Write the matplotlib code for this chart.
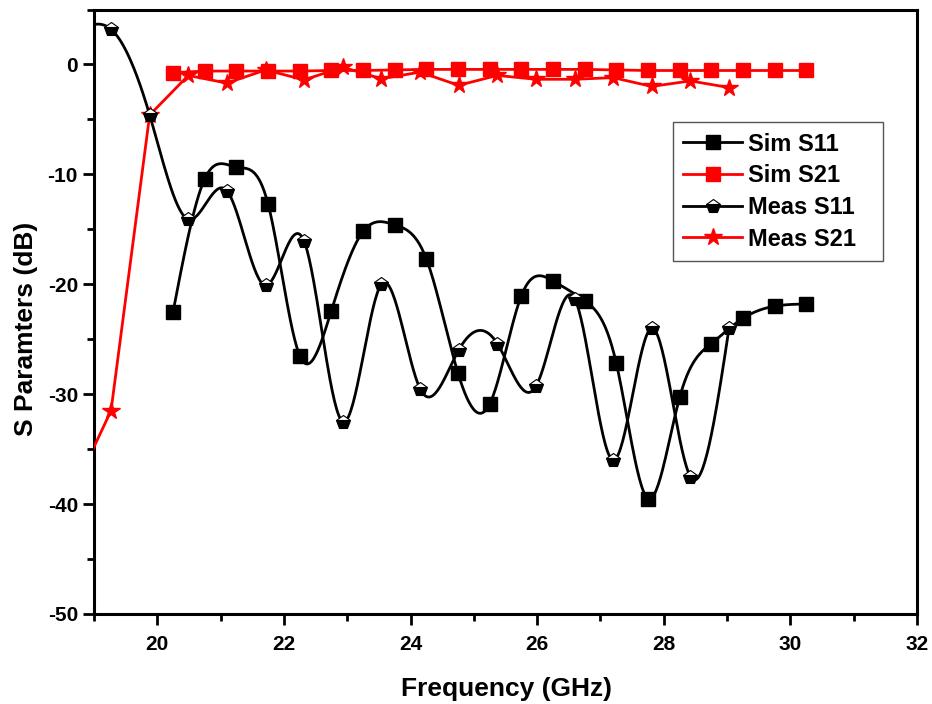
import numpy as np
import matplotlib
matplotlib.use("Agg")
import matplotlib.pyplot as plt
from matplotlib.ticker import MultipleLocator

# Simulated data (0.5 GHz grid)
sim_freq = [20.25, 20.75, 21.25, 21.75, 22.25, 22.75, 23.25, 23.75, 24.25, 24.75,
            25.25, 25.75, 26.25, 26.75, 27.25, 27.75, 28.25, 28.75, 29.25, 29.75, 30.25]
sim_s11 = [-22.5, -10.4, -9.35, -12.7, -26.5, -22.4, -15.2, -14.6, -17.7, -28.1,
           -30.9, -21.05, -19.7, -21.5, -27.2, -39.5, -30.3, -25.4, -23.1, -22.0, -21.8]
sim_s21 = [-0.75, -0.6, -0.6, -0.6, -0.6, -0.55, -0.55, -0.5, -0.45, -0.45,
           -0.45, -0.45, -0.45, -0.45, -0.5, -0.55, -0.55, -0.55, -0.55, -0.55, -0.55]

# Measured data
meas_freq = [18.66, 19.27, 19.88, 20.49, 21.10, 21.71, 22.32, 22.93, 23.54, 24.15,
             24.76, 25.37, 25.98, 26.59, 27.20, 27.81, 28.42, 29.03]
meas_s11 = [2.6, 3.2, -4.6, -14.1, -11.5, -20.1, -16.1, -32.5, -20.0, -29.5,
            -26.0, -25.4, -29.3, -21.3, -36.0, -24.0, -37.5, -24.0]
meas_s21 = [-39.0, -31.5, -4.6, -1.0, -1.7, -0.5, -1.4, -0.25, -1.3, -0.7,
            -1.9, -1.0, -1.35, -1.35, -1.2, -2.0, -1.5, -2.1]


def natural_spline(x, y, num=600):
    """Natural cubic spline through (x, y), sampled on a dense grid."""
    x = np.asarray(x, float)
    y = np.asarray(y, float)
    n = len(x)
    h = np.diff(x)
    A = np.zeros((n, n))
    b = np.zeros(n)
    A[0, 0] = 1.0
    A[-1, -1] = 1.0
    for i in range(1, n - 1):
        A[i, i - 1] = h[i - 1]
        A[i, i] = 2 * (h[i - 1] + h[i])
        A[i, i + 1] = h[i]
        b[i] = 6 * ((y[i + 1] - y[i]) / h[i] - (y[i] - y[i - 1]) / h[i - 1])
    M = np.linalg.solve(A, b)
    xs = np.linspace(x[0], x[-1], num)
    idx = np.clip(np.searchsorted(x, xs) - 1, 0, n - 2)
    x0, x1 = x[idx], x[idx + 1]
    hi = x1 - x0
    t0 = x1 - xs
    t1 = xs - x0
    ys = (M[idx] * t0 ** 3 / (6 * hi) + M[idx + 1] * t1 ** 3 / (6 * hi)
          + (y[idx] / hi - M[idx] * hi / 6) * t0
          + (y[idx + 1] / hi - M[idx + 1] * hi / 6) * t1)
    return xs, ys


plt.rcParams['font.family'] = ['Liberation Sans', 'DejaVu Sans']
plt.rcParams['font.weight'] = 'bold'
plt.rcParams['axes.unicode_minus'] = False

fig = plt.figure(figsize=(9.32, 7.04), dpi=100)
ax = fig.add_axes([0.1008, 0.128, 0.8832, 0.8585])

lw = 2.0
ms = 9.5
pent = dict(marker='p', ms=10, markerfacecolor='black', markerfacecoloralt='white',
            fillstyle='bottom', markeredgewidth=0.8)

# Sim S11: smooth curve with square markers
xs, ys = natural_spline(sim_freq, sim_s11)
ax.plot(xs, ys, color='black', lw=lw, zorder=3)
ax.plot(sim_freq, sim_s11, ls='none', marker='s', ms=ms, color='black', zorder=4)

# Sim S21
ax.plot(sim_freq, sim_s21, color='red', lw=lw, marker='s', ms=ms, zorder=3)

# Meas S21
ax.plot(meas_freq, meas_s21, color='red', lw=lw, marker='*', ms=13, zorder=3)

# Meas S11: smooth curve with half-filled pentagons
xm, ym = natural_spline(meas_freq, meas_s11)
ax.plot(xm, ym, color='black', lw=lw, zorder=5)
ax.plot(meas_freq, meas_s11, ls='none', color='black', zorder=6, **pent)

# Legend proxies
h1, = ax.plot([], [], color='black', lw=lw, marker='s', ms=ms)
h2, = ax.plot([], [], color='red', lw=lw, marker='s', ms=ms)
h3, = ax.plot([], [], color='black', lw=lw, **pent)
h4, = ax.plot([], [], color='red', lw=lw, marker='*', ms=13)
leg = ax.legend([h1, h2, h3, h4], ['Sim S11', 'Sim S21', 'Meas S11', 'Meas S21'],
                loc='upper left', bbox_to_anchor=(0.703, 0.586, 0.256, 0.228),
                mode='expand', fancybox=False, framealpha=1, edgecolor='#555555',
                prop={'size': 17, 'weight': 'bold'}, handlelength=2.5,
                labelspacing=0.37, borderpad=0.45, handletextpad=0.25,
                borderaxespad=0.0)
leg.get_frame().set_linewidth(1.0)

ax.set_xlim(19, 32)
ax.set_ylim(-50, 5)
ax.xaxis.set_major_locator(MultipleLocator(2))
ax.xaxis.set_minor_locator(MultipleLocator(1))
ax.yaxis.set_major_locator(MultipleLocator(10))
ax.yaxis.set_minor_locator(MultipleLocator(5))
ax.tick_params(which='both', direction='out', width=2, top=False, right=False,
               labelsize=15)
ax.tick_params(which='major', length=8)
ax.tick_params(axis='x', which='major', pad=7)
ax.tick_params(which='minor', length=5)
for lab in ax.get_xticklabels() + ax.get_yticklabels():
    lab.set_fontweight('bold')
for sp in ax.spines.values():
    sp.set_linewidth(2.2)

ax.set_xlabel('Frequency (GHz)', fontsize=19, fontweight='bold')
ax.set_ylabel('S Paramters (dB)', fontsize=19, fontweight='bold')
ax.xaxis.set_label_coords(0.5006, -0.104)
ax.yaxis.set_label_coords(-0.068, 0.4715)

fig.savefig('out.png', dpi=100)
